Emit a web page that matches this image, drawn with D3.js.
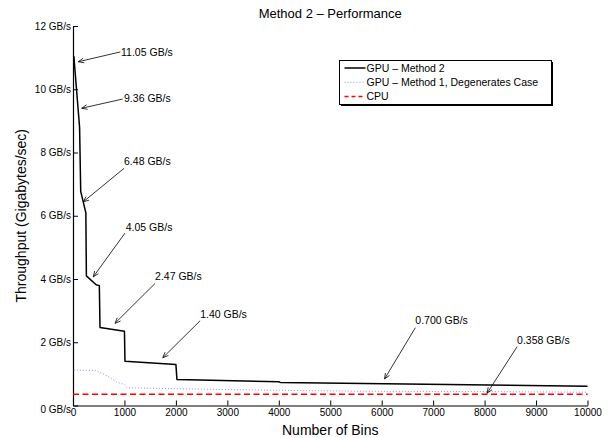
<!DOCTYPE html>
<html><head><meta charset="utf-8">
<script src="https://cdn.jsdelivr.net/npm/d3@7"></script>
<style>body{margin:0;background:#fff}svg{display:block}text{font-family:"Liberation Sans",Arial,Helvetica,sans-serif;fill:#000}</style>
</head><body>
<svg id="chart" width="614" height="438"></svg>
<script>
// ---- data ----
const gpuM2Bins = [16, 128, 150, 250, 260, 450, 512, 525, 1000, 1010, 2000, 2020, 4000, 4030, 10000];
const gpuM2Vals = [11.05, 8.8, 6.77, 6.09, 4.1, 3.82, 3.79, 2.47, 2.35, 1.40, 1.30, 0.82, 0.75, 0.73, 0.61];
const gpuM1Bins = [16, 430, 620, 850, 1000, 1050, 2000, 4000, 5600, 8000, 10000];
const gpuM1Vals = [1.12, 1.11, 0.98, 0.74, 0.66, 0.56, 0.53, 0.48, 0.45, 0.44, 0.42];
const cpuBins = [0, 10000];
const cpuVals = [0.358, 0.358];
const xTicks = [0,1000,2000,3000,4000,5000,6000,7000,8000,9000,10000];
const yTicks = [0,2,4,6,8,10,12];
const seriesNames = ["GPU \u2013 Method 2", "GPU \u2013 Method 1, Degenerates Case", "CPU"];
// annotations (data coordinates)
const annLabels = ["11.05 GB/s","9.36 GB/s","6.48 GB/s","4.05 GB/s","2.47 GB/s","1.40 GB/s","0.700 GB/s","0.358 GB/s"];
const annTextX = [934, 992, 992, 1025, 1595, 2471, 6654, 8632];
const annTextY = [11.18, 9.71, 7.72, 5.63, 4.09, 2.89, 2.70, 2.07];
const annTailX = [920, 965, 992, 1010, 1595, 2471, 6654, 8632];
const annTailY = [11.18, 9.69, 7.50, 5.45, 3.86, 2.68, 2.46, 1.86];
const annTipX = [103, 169, 200, 395, 817, 1745, 6056, 8049];
const annTipY = [10.87, 9.40, 6.44, 4.07, 2.60, 1.51, 0.84, 0.39];

// ---- layout ----
const svg = d3.select("#chart");
const m = {l:73, r:26.5, t:26, b:32.5};
const W = 614, H = 438;
const x = d3.scaleLinear().domain([0,10000]).range([m.l, W-m.r]);
const y = d3.scaleLinear().domain([0,12]).range([H-m.b, m.t]);

// axes
const xa = svg.append("g").attr("transform",`translate(0,${H-m.b})`)
  .call(d3.axisBottom(x).tickValues(xTicks).tickFormat(d3.format("d")).tickSizeInner(-5).tickSizeOuter(0).tickPadding(3));
const ya = svg.append("g").attr("transform",`translate(${m.l},0)`)
  .call(d3.axisLeft(y).tickValues(yTicks).tickFormat(d=>d+" GB/s").tickSizeInner(-5).tickSizeOuter(0).tickPadding(2));
[xa,ya].forEach(g=>{
  g.selectAll("text").style("font-size","10px").style("font-family",'"Liberation Sans",Arial,sans-serif');
  g.select(".domain").attr("stroke","#000").attr("stroke-width",1.2);
  g.selectAll(".tick line").attr("stroke","#000");
});
ya.selectAll(".tick text").attr("dy","0.32em");
ya.selectAll(".tick").filter(d=>d===0).select("text").attr("dy","0.7em");

// lines
const line = d3.line().x(d=>x(d[0])).y(d=>y(d[1]));
const zip = (a,b)=>a.map((v,i)=>[v,b[i]]);
svg.append("path").datum(zip(gpuM1Bins,gpuM1Vals)).attr("d",line)
  .attr("fill","none").attr("stroke","#8c8cff").attr("stroke-width",1).attr("stroke-dasharray","1,2");
svg.append("path").datum(zip(cpuBins,cpuVals)).attr("d",line)
  .attr("fill","none").attr("stroke","#ff0000").attr("stroke-width",1.5).attr("stroke-dasharray","6,3.5");
svg.append("path").datum(zip(gpuM2Bins,gpuM2Vals)).attr("d",line)
  .attr("fill","none").attr("stroke","#000").attr("stroke-width",1.5).attr("stroke-linejoin","round");

// title & labels
svg.append("text").attr("x",x(5000)).attr("y",13).attr("dy","0.35em").attr("text-anchor","middle")
  .style("font-size","13px").text("Method 2 \u2013 Performance");
svg.append("text").attr("x",x(5000)).attr("y",430).attr("dy","0.35em").attr("text-anchor","middle")
  .style("font-size","14px").text("Number of Bins");
svg.append("text").attr("transform",`translate(21,${(y(0)+y(12))/2}) rotate(-90)`).attr("dy","0.35em")
  .attr("text-anchor","middle").style("font-size","14px").text("Throughput (Gigabytes/sec)");

// annotations
annLabels.forEach((lab,i)=>{
  const x1 = x(annTailX[i]), y1 = y(annTailY[i]), x2 = x(annTipX[i]), y2 = y(annTipY[i]);
  svg.append("line").attr("x1",x1).attr("y1",y1).attr("x2",x2).attr("y2",y2)
    .attr("stroke","#000").attr("stroke-width",0.8);
  const ang = Math.atan2(y2-y1, x2-x1), L = 6, a = 0.4;
  const p1 = [x2 - L*Math.cos(ang-a), y2 - L*Math.sin(ang-a)];
  const p2 = [x2 - L*Math.cos(ang+a), y2 - L*Math.sin(ang+a)];
  svg.append("path").attr("d",`M${p1}L${x2},${y2}L${p2}`).attr("fill","none").attr("stroke","#000").attr("stroke-width",0.8);
  svg.append("text").attr("x",x(annTextX[i])).attr("y",y(annTextY[i])).attr("dy","0.35em")
    .style("font-size","10.5px").text(lab);
});

// legend
const lg = svg.append("g");
const lx = 339.5, ly = 60.5, lw = 212, lh = 44;
lg.append("rect").attr("x",lx+1.5).attr("y",ly+1.5).attr("width",lw).attr("height",lh).attr("fill","#000");
lg.append("rect").attr("x",lx).attr("y",ly).attr("width",lw).attr("height",lh).attr("fill","#fff").attr("stroke","#000").attr("stroke-width",1);
const styles = [
  {c:"#000", w:1.5, d:null},
  {c:"#8c8cff", w:1, d:"1,2"},
  {c:"#ff0000", w:1.5, d:"4,3"}
];
seriesNames.forEach((n,i)=>{
  const yy = ly + 7.5 + i*14.2;
  lg.append("line").attr("x1",lx+5).attr("x2",lx+26).attr("y1",yy).attr("y2",yy)
    .attr("stroke",styles[i].c).attr("stroke-width",styles[i].w).attr("stroke-dasharray",styles[i].d);
  lg.append("text").attr("x",lx+27).attr("y",yy).attr("dy","0.35em").style("font-size","10.5px").text(n);
});
</script>
</body></html>
